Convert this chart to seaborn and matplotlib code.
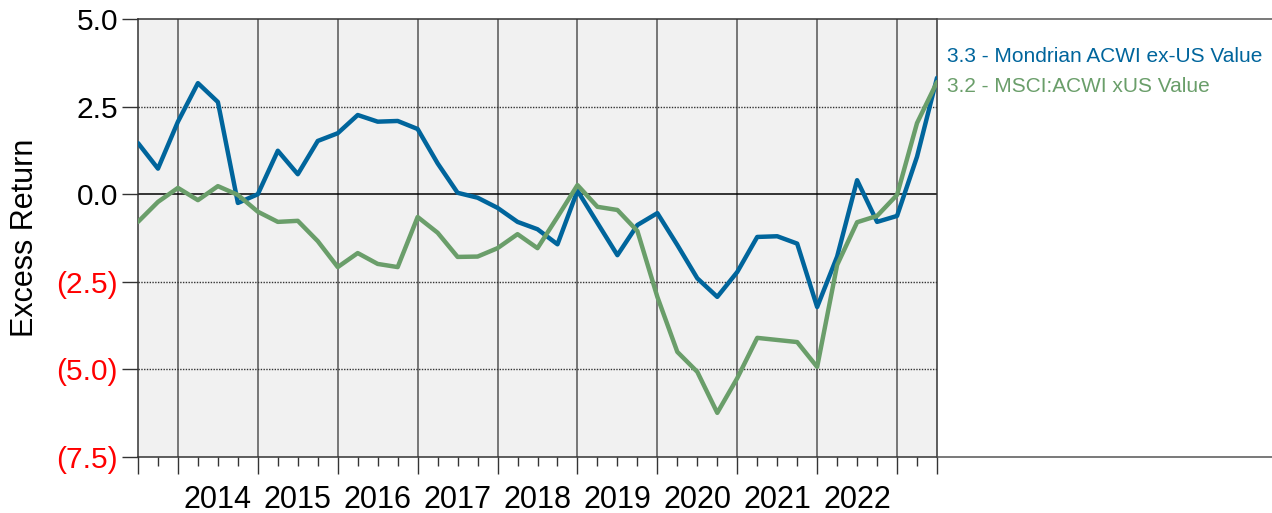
import numpy as np
import pandas as pd
import seaborn as sns
import matplotlib.pyplot as plt
from matplotlib.lines import Line2D
from matplotlib.ticker import FixedLocator, FuncFormatter

# quarterly points, mid-2013 to mid-2023
quarters = [2013.5 + 0.25 * i for i in range(41)]

mondrian = [1.46, 0.73, 2.07, 3.17, 2.63, -0.25, 0.0, 1.24, 0.57, 1.52,
            1.74, 2.26, 2.07, 2.09, 1.86, 0.88, 0.04, -0.10, -0.39, -0.79,
            -1.00, -1.43, 0.10, -0.82, -1.74, -0.88, -0.54, -1.45, -2.40, -2.93,
            -2.22, -1.22, -1.20, -1.41, -3.22, -1.78, 0.40, -0.79, -0.62, 1.07,
            3.32]
msci = [-0.79, -0.22, 0.18, -0.17, 0.23, -0.02, -0.50, -0.79, -0.76, -1.34,
        -2.08, -1.68, -1.99, -2.08, -0.65, -1.10, -1.79, -1.78, -1.54, -1.14,
        -1.54, -0.65, 0.26, -0.36, -0.45, -1.05, -2.93, -4.50, -5.07, -6.24,
        -5.25, -4.10, -4.16, -4.22, -4.93, -2.02, -0.80, -0.62, -0.02, 2.03,
        3.20]

labels = ["3.3 - Mondrian ACWI ex-US Value", "3.2 - MSCI:ACWI xUS Value"]
colors = ["#00659C", "#6A9E6A"]
years = list(range(2014, 2023))
yticks = [5.0, 2.5, 0.0, -2.5, -5.0, -7.5]

df = pd.DataFrame({
    "quarter": quarters * 2,
    "excess": mondrian + msci,
    "series": [labels[0]] * len(quarters) + [labels[1]] * len(quarters),
})

sns.set_style("white")
plt.rcParams["font.family"] = ["Liberation Sans", "DejaVu Sans"]
plt.rcParams["text.color"] = "black"
plt.rcParams["axes.labelcolor"] = "black"

fig = plt.figure(figsize=(12.72, 5.13), dpi=100)
ax = fig.add_axes([138 / 1272, 1 - 457 / 513, 799 / 1272, 438 / 513])
ax.set_facecolor("#F1F1F1")

# grid: year lines and horizontal reference lines
for yr in years + [2023]:
    ax.axvline(yr, color="#555555", lw=1.1, zorder=1)
ax.axhline(0, color="black", lw=1.1, zorder=1)
for yv in [2.5, -2.5, -5.0]:
    ax.axhline(yv, color="#333333", lw=1.0, ls=(0, (1, 1)), zorder=1)

sns.lineplot(data=df, x="quarter", y="excess", hue="series", palette=colors,
             linewidth=3.2, legend=False, ax=ax, zorder=3)

ax.set_xlim(2013.5, 2023.5)
ax.set_ylim(-7.5, 5.0)

# x axis ticks: long at year boundaries, short every quarter
ax.xaxis.set_major_locator(FixedLocator([2013.5] + years + [2023, 2023.5]))
ax.xaxis.set_minor_locator(FixedLocator(quarters))
ax.tick_params(axis="x", which="major", bottom=True, length=12.5, width=1,
               color="#333333", labelbottom=False, direction="out")
ax.tick_params(axis="x", which="minor", bottom=True, length=6.5, width=1,
               color="#333333", direction="out")
for yr in years:
    ax.text(yr + 0.5, -0.098, str(yr), transform=ax.get_xaxis_transform(),
            ha="center", va="center", fontsize=22, color="black")

# y axis ticks
ax.set_yticks(yticks)
ax.yaxis.set_major_formatter(FuncFormatter(
    lambda v, p: f"{v:.1f}" if v >= 0 else f"({abs(v):.1f})"))
ax.tick_params(axis="y", left=True, length=11.5, width=1, color="#333333",
               labelsize=21.5, pad=3, direction="out")
for t, v in zip(ax.get_yticklabels(), ax.get_yticks()):
    t.set_color("red" if v < 0 else "black")

ax.set_xlabel("")
ax.set_ylabel("Excess Return", fontsize=22, color="black")
ax.yaxis.set_label_coords(-0.123, 0.5)

for s in ax.spines.values():
    s.set_color("#333333")
    s.set_linewidth(1.1)

# top and bottom borders carried on past the plot
x0 = 937 / 1272
for yf in [1 - 19 / 513, 1 - 457 / 513]:
    fig.add_artist(Line2D([x0, 1], [yf, yf], transform=fig.transFigure,
                          color="#555555", lw=1.1))

fig.text(947 / 1272, 1 - 56 / 513, labels[0], color=colors[0], fontsize=15,
         va="center", ha="left")
fig.text(947 / 1272, 1 - 86 / 513, labels[1], color=colors[1], fontsize=15,
         va="center", ha="left")

fig.savefig("out.png", dpi=100)
